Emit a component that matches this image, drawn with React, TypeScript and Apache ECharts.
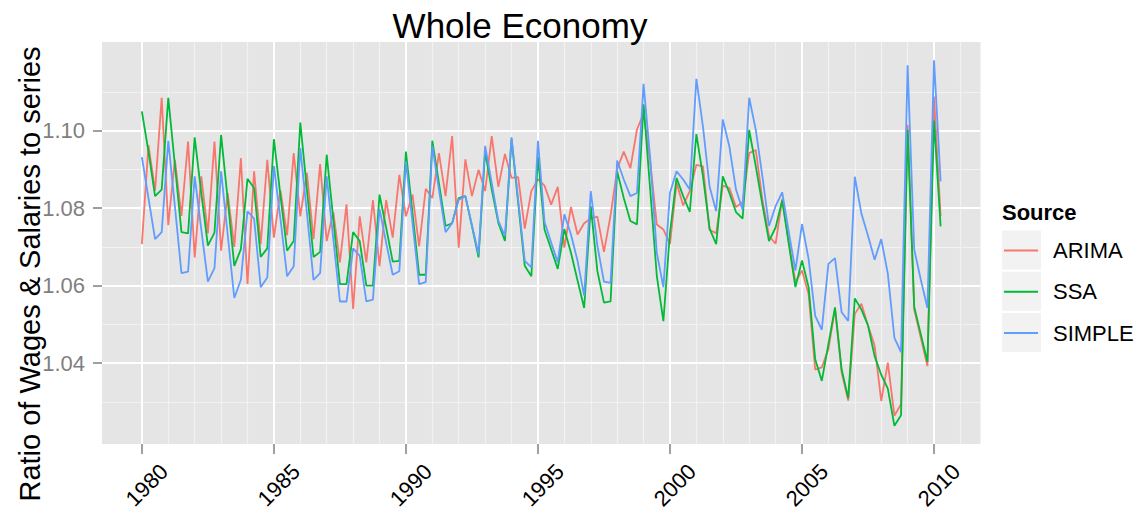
import React, { useEffect, useRef } from "react";
import * as echarts from "echarts";

// Quarterly series, 1980 Q1 .. 2010 Q2
const startYear = 1980;
const seriesNames = ["ARIMA", "SSA", "SIMPLE"];
const seriesColors = ["#F8766D", "#00BA38", "#619CFF"];

const arima = [
  1.0707, 1.0963, 1.0845, 1.1085, 1.0756, 1.0925, 1.078, 1.0972, 1.0673, 1.0882,
  1.0735, 1.0972, 1.069, 1.0839, 1.07, 1.0929, 1.0604, 1.0895, 1.0707, 1.0925,
  1.0724, 1.0845, 1.073, 1.0942, 1.0779, 1.0891, 1.072, 1.0914, 1.0715, 1.079,
  1.066, 1.081, 1.054, 1.0779, 1.066, 1.0821, 1.065, 1.0821, 1.0724, 1.0886,
  1.0779, 1.0835, 1.0701, 1.085, 1.0826, 1.0942, 1.0831, 1.0986, 1.0698, 1.0926,
  1.0831, 1.0899, 1.0844, 1.0986, 1.0855, 1.094, 1.0878, 1.088, 1.0747, 1.0844,
  1.0875, 1.0858, 1.0809, 1.0855, 1.0698, 1.0803, 1.0732, 1.0761, 1.0773, 1.0778,
  1.0687, 1.0781, 1.0901, 1.0946, 1.0903, 1.1003, 1.1044, 1.0921, 1.0758, 1.0745,
  1.0707, 1.0865, 1.0807, 1.0844, 1.0912, 1.0908, 1.0744, 1.0735, 1.0858, 1.0852,
  1.0803, 1.0815, 1.0942, 1.095, 1.0822, 1.0728, 1.0708, 1.0824, 1.0712, 1.0609,
  1.0639, 1.0578, 1.0383, 1.0389, 1.0436, 1.054, 1.0376, 1.0303, 1.0527, 1.0553,
  1.0497, 1.0445, 1.0302, 1.0401, 1.0264, 1.0294, 1.1015, 1.0538, 1.0465, 1.0392,
  1.1088, 1.0779,
];

const ssa = [
  1.105, 1.0946, 1.0831, 1.0848, 1.1085, 1.0912, 1.0738, 1.0735, 1.0983, 1.0839,
  1.0703, 1.0737, 1.0989, 1.0822, 1.0651, 1.0694, 1.0876, 1.0852, 1.0674, 1.0696,
  1.0978, 1.0831, 1.069, 1.0715, 1.1021, 1.0848, 1.0674, 1.0687, 1.0938, 1.0771,
  1.0604, 1.0604, 1.0738, 1.0715, 1.06, 1.06, 1.0835, 1.075, 1.0662, 1.0664,
  1.0946, 1.0788, 1.0628, 1.0628, 1.0974, 1.0865, 1.0754, 1.0761, 1.0826, 1.0831,
  1.0754, 1.0673, 1.0946, 1.0848, 1.0762, 1.0715, 1.0978, 1.0814, 1.0651, 1.0624,
  1.0933, 1.0744, 1.0694, 1.0643, 1.0746, 1.0685, 1.0613, 1.0542, 1.0805, 1.0638,
  1.0556, 1.0559, 1.0895, 1.0826, 1.0767, 1.0758, 1.1068, 1.0848, 1.0626, 1.0508,
  1.0737, 1.0878, 1.0831, 1.079, 1.0991, 1.0882, 1.0747, 1.0707, 1.0882, 1.0839,
  1.079, 1.0773, 1.1002, 1.0908, 1.0809, 1.0715, 1.075, 1.082, 1.0708, 1.0596,
  1.0665, 1.0596, 1.041, 1.0354, 1.0449, 1.0544, 1.0384, 1.0309, 1.0567, 1.0538,
  1.0497, 1.0418, 1.037, 1.0334, 1.0238, 1.0265, 1.1002, 1.0545, 1.0474, 1.0403,
  1.1026, 1.0753,
];

const simple = [
  1.0932, 1.0826, 1.072, 1.0738, 1.0974, 1.0805, 1.0632, 1.0636, 1.0882, 1.0745,
  1.061, 1.0645, 1.0895, 1.0732, 1.0568, 1.0615, 1.0792, 1.0773, 1.0596, 1.0621,
  1.0909, 1.0771, 1.0624, 1.065, 1.0955, 1.0788, 1.0615, 1.0632, 1.0882, 1.072,
  1.0559, 1.0559, 1.0696, 1.0677, 1.0559, 1.0564, 1.0798, 1.0711, 1.0628, 1.0637,
  1.0921, 1.0762, 1.0604, 1.0609, 1.0961, 1.0848, 1.0738, 1.0761, 1.0822, 1.0831,
  1.0756, 1.0681, 1.0961, 1.0865, 1.0767, 1.0728, 1.0983, 1.0822, 1.0664, 1.0647,
  1.0974, 1.0764, 1.0711, 1.066, 1.0784, 1.0732, 1.0664, 1.0574, 1.0844, 1.0703,
  1.061, 1.0607, 1.0923, 1.0874, 1.0831, 1.0839, 1.1121, 1.0929, 1.0685, 1.0596,
  1.084, 1.0895, 1.0874, 1.0848, 1.1134, 1.101, 1.0856, 1.0792, 1.1029, 1.0959,
  1.0848, 1.0796, 1.1085, 1.1002, 1.0882, 1.0754, 1.0805, 1.0841, 1.0738, 1.0639,
  1.0759, 1.0669, 1.0522, 1.0486, 1.0656, 1.0671, 1.0531, 1.0509, 1.0881, 1.0786,
  1.0729, 1.0667, 1.072, 1.0631, 1.0465, 1.0428, 1.1169, 1.0693, 1.0615, 1.0542,
  1.1182, 1.0869,
];

const xTickLabels = [1980, 1985, 1990, 1995, 2000, 2005, 2010];
const xMinorGrid = [
  1981, 1982, 1983, 1984, 1986, 1987, 1988, 1989, 1991, 1992, 1993, 1994, 1996,
  1997, 1998, 1999, 2001, 2002, 2003, 2004, 2006, 2007, 2008, 2009, 2011,
];
const yTickLabels = [1.04, 1.06, 1.08, 1.1];
const yMinorGrid = [1.03, 1.05, 1.07, 1.09, 1.11];

const FONT = "'Liberation Sans', Arial, Helvetica, sans-serif";

export default function App() {
  const ref = useRef<HTMLDivElement>(null);

  useEffect(() => {
    if (!ref.current) return;
    const chart = echarts.init(ref.current, null, { renderer: "svg" });

    const allSeries = [arima, ssa, simple];
    const dataSeries = allSeries.map((vals, s) => ({
      name: seriesNames[s],
      type: "line",
      z: 3,
      symbol: "none",
      showSymbol: false,
      silent: true,
      itemStyle: { color: seriesColors[s] },
      lineStyle: { color: seriesColors[s], width: 1.8 },
      data: vals.map((v, i) => [startYear + i / 4, v]),
    }));

    const majorStyle = { color: "#FFFFFF", width: 2, type: "solid" };
    const minorStyle = { color: "#F2F2F2", width: 1.2, type: "solid" };

    const gridSeries = {
      name: "grid",
      type: "line",
      z: 1,
      data: [],
      silent: true,
      markLine: {
        z: 1,
        silent: true,
        symbol: ["none", "none"],
        label: { show: false },
        emphasis: { disabled: true },
        data: [
          ...xMinorGrid.map((v) => ({ xAxis: v, lineStyle: minorStyle })),
          ...yMinorGrid.map((v) => ({ yAxis: v, lineStyle: minorStyle })),
          ...xTickLabels.map((v) => ({ xAxis: v, lineStyle: majorStyle })),
          ...yTickLabels.map((v) => ({ yAxis: v, lineStyle: majorStyle })),
        ],
      },
    };

    const option: any = {
      animation: false,
      textStyle: { fontFamily: FONT },
      title: {
        text: "Whole Economy",
        left: 515,
        textAlign: "center",
        top: 3,
        textStyle: { fontSize: 35, fontWeight: "normal", color: "#000", fontFamily: FONT },
      },
      grid: {
        left: 102,
        top: 42,
        right: 166.5,
        bottom: 73,
        show: true,
        backgroundColor: "#E5E5E5",
        borderWidth: 0,
      },
      xAxis: {
        type: "value",
        min: 1978.49,
        max: 2011.76,
        axisLine: { show: false },
        splitLine: { show: false },
        axisTick: {
          show: true,
          customValues: xTickLabels,
          length: 10,
          lineStyle: { color: "#7F7F7F", width: 1.5 },
        },
        axisLabel: {
          customValues: xTickLabels,
          rotate: 45,
          align: "center",
          verticalAlign: "middle",
          margin: 46,
          padding: [0, 0, 0, 14],
          fontSize: 22,
          color: "#000",
          fontFamily: FONT,
          formatter: (v: number) => String(Math.round(v)),
        },
      },
      yAxis: {
        type: "value",
        min: 1.0191,
        max: 1.1229,
        axisLine: { show: false },
        splitLine: { show: false },
        axisTick: {
          show: true,
          customValues: yTickLabels,
          length: 9,
          lineStyle: { color: "#7F7F7F", width: 1.5 },
        },
        axisLabel: {
          customValues: yTickLabels,
          margin: 17,
          fontSize: 22,
          color: "#7F7F7F",
          fontFamily: FONT,
          formatter: (v: number) => v.toFixed(2),
        },
      },
      legend: {
        data: seriesNames,
        orient: "vertical",
        left: 1004,
        top: 238.5,
        padding: 0,
        itemWidth: 34,
        itemHeight: 2,
        itemGap: 17.3,
        icon: "rect",
        selectedMode: false,
        z: 5,
        textStyle: {
          fontSize: 22,
          lineHeight: 24,
          color: "#000",
          fontFamily: FONT,
          padding: [0, 0, 0, 10],
        },
      },
      graphic: [
        {
          type: "text",
          x: 30,
          y: 274,
          rotation: Math.PI / 2,
          style: {
            text: "Ratio of Wages & Salaries to series",
            fontSize: 29,
            fontFamily: FONT,
            fill: "#000",
            align: "center",
            verticalAlign: "middle",
          },
        },
        {
          type: "text",
          x: 1002,
          y: 212,
          style: {
            text: "Source",
            fontSize: 22,
            fontWeight: "bold",
            fontFamily: FONT,
            fill: "#000",
            align: "left",
            verticalAlign: "middle",
          },
        },
        ...[0, 1, 2].map((k) => ({
          type: "rect",
          z: 0,
          shape: { x: 1002, y: 230.5 + k * 41.3, width: 39, height: 39 },
          style: { fill: "#F2F2F2" },
        })),
      ],
      series: [gridSeries, ...dataSeries],
    };

    chart.setOption(option);
    return () => chart.dispose();
  }, []);

  return (
    <div
      ref={ref}
      style={{ position: "fixed", left: 0, top: 0, width: 1147, height: 517, background: "#fff" }}
    />
  );
}
